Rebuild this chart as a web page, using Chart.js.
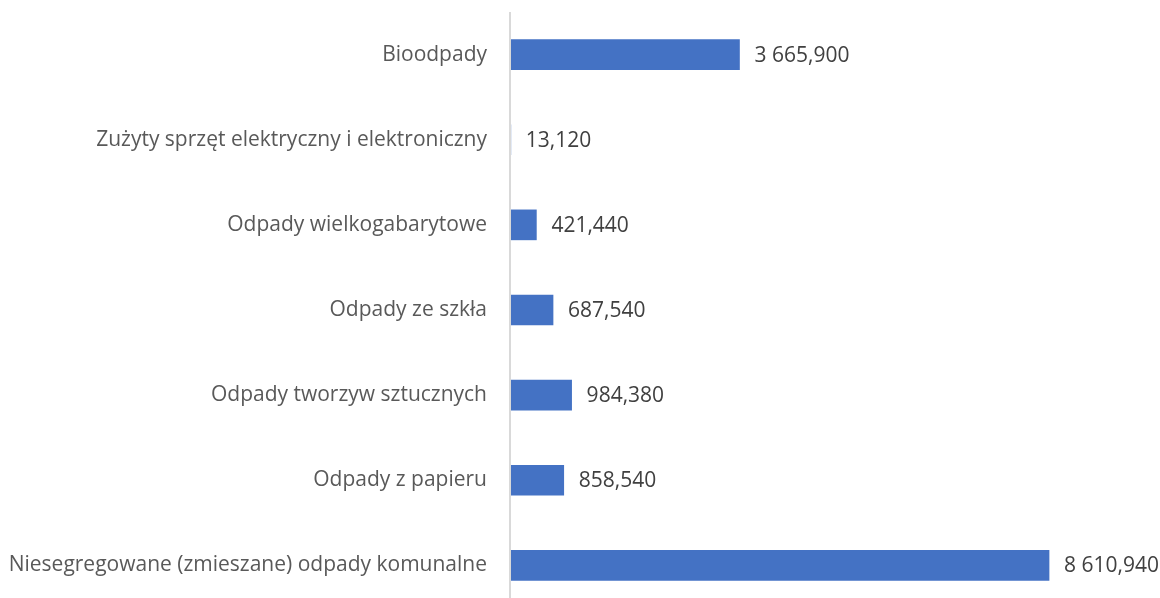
<!DOCTYPE html>
<html>
<head>
<meta charset="utf-8">
<script src="https://cdn.jsdelivr.net/npm/chart.js@4/dist/chart.umd.min.js"></script>
<style>
html,body{margin:0;padding:0;background:#fff;overflow:hidden;}
canvas{display:block;}
</style>
</head>
<body>
<canvas id="c" width="1160" height="610"></canvas>
<script>
const categories = [
  "Bioodpady",
  "Zużyty sprzęt elektryczny i elektroniczny",
  "Odpady wielkogabarytowe",
  "Odpady ze szkła",
  "Odpady tworzyw sztucznych",
  "Odpady z papieru",
  "Niesegregowane (zmieszane) odpady komunalne"
];
const values = [3665.900, 13.120, 421.440, 687.540, 984.380, 858.540, 8610.940];

function fmtPL(v){
  const s = v.toFixed(3);
  let [i, d] = s.split('.');
  i = i.replace(/\B(?=(\d{3})+(?!\d))/g, ' ');
  return i + ',' + d;
}

const labelPlugin = {
  id: 'valLabels',
  afterDatasetsDraw(chart){
    const ctx = chart.ctx;
    const area = chart.chartArea;
    // axis line on top of bars (as in the original)
    ctx.save();
    ctx.strokeStyle = '#d9d9d9';
    ctx.lineWidth = 2;
    ctx.beginPath();
    ctx.moveTo(area.left, area.top);
    ctx.lineTo(area.left, area.bottom);
    ctx.stroke();
    ctx.restore();

    const meta = chart.getDatasetMeta(0);
    ctx.save();
    ctx.font = '21px "Open Sans"';
    ctx.fillStyle = '#404040';
    ctx.textBaseline = 'middle';
    ctx.textAlign = 'left';
    meta.data.forEach((el, i) => {
      ctx.fillText(fmtPL(values[i]), el.x + 15, el.y + 1);
    });
    ctx.restore();
  }
};

new Chart(document.getElementById('c'), {
  type: 'bar',
  data: {
    labels: categories,
    datasets: [{
      data: values,
      backgroundColor: '#4472C4',
      borderWidth: 0,
      barThickness: 30
    }]
  },
  options: {
    indexAxis: 'y',
    responsive: false,
    animation: false,
    layout: { padding: { top: 12, right: 24, bottom: 2, left: 0 } },
    plugins: { legend: { display: false }, tooltip: { enabled: false } },
    scales: {
      x: { display: false, min: 0, max: 10000 },
      y: {
        afterFit(scale){ scale.width = 510; scale.paddingTop = 0; scale.paddingBottom = 0; },
        grid: { display: false, drawTicks: false },
        border: { display: false },
        ticks: { color: '#595959', font: { family: 'Open Sans', size: 21 }, padding: 23 }
      }
    }
  },
  plugins: [labelPlugin]
});
</script>
</body>
</html>
